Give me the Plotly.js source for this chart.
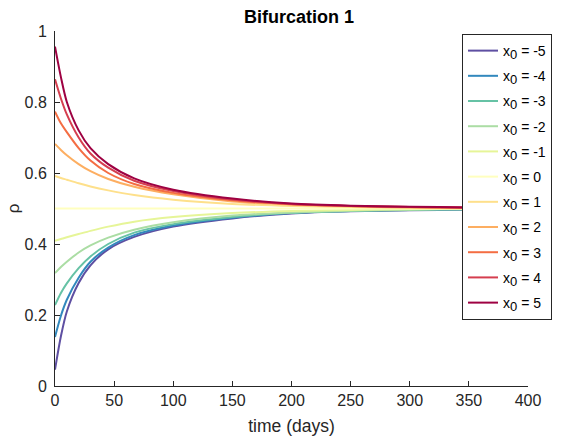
<!DOCTYPE html>
<html>
<head>
<meta charset="utf-8">
<script src="https://cdn.plot.ly/plotly-3.0.1.min.js"></script>
<style>
  html, body { margin: 0; padding: 0; background: #fff; }
  #chart { width: 573px; height: 436px; }
</style>
</head>
<body>
<div id="chart"></div>
<script>
// Sample times (days)
const days = [0, 5, 10, 20, 30, 45, 67, 100, 150, 200, 250, 300, 350, 400];

// Initial conditions and legend labels
const x0Values = [-5, -4, -3, -2, -1, 0, 1, 2, 3, 4, 5];

// rho(t) for each initial condition x0
const rhoM5 = [0.046, 0.14, 0.21, 0.29, 0.34, 0.385, 0.42, 0.449, 0.472, 0.486, 0.492, 0.495, 0.497, 0.498];
const rhoM4 = [0.138, 0.198, 0.243, 0.305, 0.35, 0.39, 0.425, 0.452, 0.474, 0.487, 0.493, 0.496, 0.497, 0.498];
const rhoM3 = [0.228, 0.262, 0.289, 0.332, 0.365, 0.40, 0.432, 0.456, 0.476, 0.488, 0.493, 0.496, 0.498, 0.499];
const rhoM2 = [0.318, 0.335, 0.35, 0.376, 0.396, 0.418, 0.44, 0.461, 0.48, 0.489, 0.494, 0.497, 0.498, 0.499];
const rhoM1 = [0.409, 0.414, 0.419, 0.428, 0.437, 0.449, 0.463, 0.476, 0.487, 0.493, 0.496, 0.498, 0.499, 0.4995];
const rho0  = [0.5, 0.5, 0.5, 0.5, 0.5, 0.5, 0.5, 0.5, 0.5, 0.5, 0.5, 0.5, 0.5, 0.5];
const rhoP1 = [0.592, 0.586, 0.581, 0.571, 0.562, 0.551, 0.538, 0.525, 0.513, 0.507, 0.504, 0.502, 0.501, 0.5005];
const rhoP2 = [0.682, 0.665, 0.65, 0.625, 0.605, 0.583, 0.561, 0.54, 0.52, 0.511, 0.506, 0.503, 0.502, 0.501];
const rhoP3 = [0.773, 0.74, 0.715, 0.67, 0.635, 0.60, 0.569, 0.544, 0.523, 0.512, 0.507, 0.504, 0.502, 0.501];
const rhoP4 = [0.864, 0.81, 0.765, 0.70, 0.655, 0.615, 0.578, 0.549, 0.525, 0.513, 0.507, 0.504, 0.503, 0.502];
const rhoP5 = [0.956, 0.87, 0.80, 0.72, 0.67, 0.625, 0.585, 0.553, 0.528, 0.514, 0.508, 0.505, 0.503, 0.502];

const series = [rhoM5, rhoM4, rhoM3, rhoM2, rhoM1, rho0, rhoP1, rhoP2, rhoP3, rhoP4, rhoP5];

// Spectral colour map, 11 steps
const colors = ['#5e4fa2', '#3288bd', '#66c2a5', '#abdda4', '#e6f598', '#ffffbf',
                '#fee08b', '#fdae61', '#f46d43', '#d53e4f', '#9e0142'];

const font = 'Liberation Sans, Arial, Helvetica, sans-serif';
const ink = '#262626';

const traces = series.map((ys, i) => ({
  type: 'scatter',
  mode: 'lines',
  x: days,
  y: ys,
  name: 'x<sub><span style="font-size:13px">0</span></sub> = ' + x0Values[i],
  legendgroup: 'g' + i,
  line: { color: colors[i], width: 2, shape: 'spline', smoothing: 0.8 },
  hoverinfo: 'skip'
}));

const layout = {
  width: 573,
  height: 436,
  margin: { l: 55, r: 45, t: 31, b: 50, pad: 0 },
  paper_bgcolor: '#ffffff',
  plot_bgcolor: '#ffffff',
  font: { family: font, size: 16, color: ink },
  title: {
    text: '<b>Bifurcation 1</b>',
    font: { family: font, size: 18, color: '#000000' },
    xref: 'container', x: 0.522, xanchor: 'center',
    yref: 'container', y: 0.961, yanchor: 'middle'
  },
  xaxis: {
    range: [0, 400],
    tickvals: [0, 50, 100, 150, 200, 250, 300, 350, 400],
    ticks: 'inside', ticklen: 5, tickcolor: ink, tickwidth: 1,
    showline: true, linecolor: ink, linewidth: 1,
    showgrid: false, zeroline: false,
    tickfont: { family: font, size: 16, color: ink },
    ticklabelstandoff: 0,
    title: { text: 'time (days)', font: { family: font, size: 17.5, color: ink }, standoff: 11 }
  },
  yaxis: {
    range: [0, 1],
    tickvals: [0, 0.2, 0.4, 0.6, 0.8, 1],
    ticktext: ['0', '0.2', '0.4', '0.6', '0.8', '1'],
    ticks: 'inside', ticklen: 5, tickcolor: ink, tickwidth: 1,
    showline: true, linecolor: ink, linewidth: 1,
    showgrid: false, zeroline: false,
    tickfont: { family: font, size: 16, color: ink },
    ticklabelstandoff: 4,
    title: { text: 'ρ', font: { family: font, size: 17, color: ink }, standoff: 0 }
  },
  showlegend: true,
  legend: {
    x: 0.8605, xanchor: 'left',
    y: 0.9915, yanchor: 'top',
    bgcolor: '#ffffff',
    bordercolor: ink, borderwidth: 1,
    font: { family: font, size: 14, color: '#000000' },
    traceorder: 'grouped',
    tracegroupgap: 4,
    itemwidth: 30
  }
};

Plotly.newPlot('chart', traces, layout, { staticPlot: true, displayModeBar: false });
</script>
</body>
</html>
